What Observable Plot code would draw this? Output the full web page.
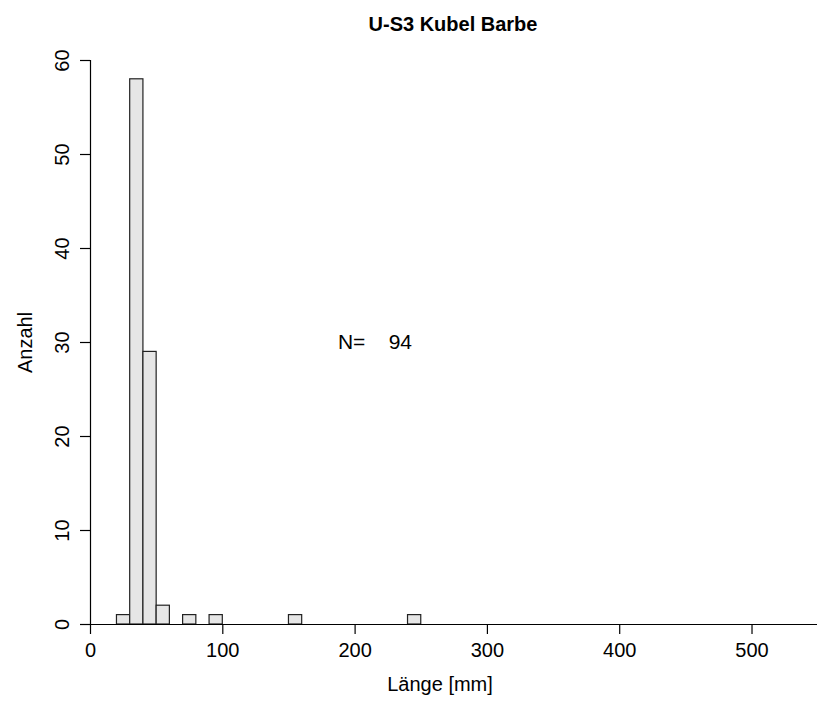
<!DOCTYPE html>
<html>
<head>
<meta charset="utf-8">
<script src="https://cdn.jsdelivr.net/npm/d3@7"></script>
<script src="https://cdn.jsdelivr.net/npm/@observablehq/plot@0.6"></script>
<style>
  html, body { margin: 0; padding: 0; background: #fff; }
  svg { display: block; font-family: "Liberation Sans", Arial, sans-serif; }
</style>
</head>
<body>
<div id="chart"></div>
<script>
const title = "U-S3 Kubel Barbe";
const xLabel = "Länge [mm]";
const yLabel = "Anzahl";
const binStart = [20, 30, 40, 50, 70, 90, 150, 240];
const binEnd   = [30, 40, 50, 60, 80, 100, 160, 250];
const counts   = [1, 58, 29, 2, 1, 1, 1, 1];
const xTicks = [0, 100, 200, 300, 400, 500];
const yTicks = [0, 10, 20, 30, 40, 50, 60];
const total = d3.sum(counts);
const noteX = 215, noteY = 30;

const bars = binStart.map((s, i) => ({x1: s, x2: binEnd[i], y: counts[i]}));

const W = 817, H = 706;
const font = "Liberation Sans, Arial, sans-serif";
const nb = "\u00a0";

const chart = Plot.plot({
  width: W,
  height: H,
  marginLeft: 90,
  marginRight: 0,
  marginTop: 60,
  marginBottom: 82,
  style: {fontFamily: font, background: "#fff"},
  x: {type: "linear", domain: [0, 549.5], axis: null},
  y: {type: "linear", domain: [0, 60], axis: null},
  marks: [
    Plot.rectY(bars, {x1: "x1", x2: "x2", y: "y", fill: "#e6e6e6", stroke: "#222", strokeWidth: 1.2, inset: 0}),
    Plot.ruleY([0], {x1: 0, x2: 549.5, stroke: "#000", strokeWidth: 1.2}),
    Plot.ruleX([0], {y1: 0, y2: 60, stroke: "#000", strokeWidth: 1.2}),
    Plot.axisX(xTicks, {tickSize: 10, tickPadding: 8, fontSize: 20, fill: "#000", stroke: "#000", strokeWidth: 1.2, label: null, tickFormat: d => String(d)}),
    Plot.axisY(yTicks, {tickSize: 10, text: null, stroke: "#000", strokeWidth: 1.2, label: null}),
    Plot.text(yTicks, {x: 0, y: d => d, text: d => String(d), rotate: -90, dx: -28, fontSize: 20, fill: "#000", textAnchor: "middle"}),
    Plot.text([title], {frameAnchor: "top", text: d => d, dy: -35.5, dx: -1, lineAnchor: "middle", textAnchor: "middle", fontSize: 20, fontWeight: "bold", fill: "#000"}),
    Plot.text([xLabel], {frameAnchor: "bottom", text: d => d, dy: 66, dx: -14, fontSize: 20, fill: "#000"}),
    Plot.text([yLabel], {frameAnchor: "left", text: d => d, rotate: -90, dx: -65, dy: 0, textAnchor: "middle", lineAnchor: "middle", fontSize: 20, fill: "#000"}),
    Plot.text([`N=${nb}${nb}${nb}${nb}${total}`], {x: noteX, y: noteY, text: d => d, fontSize: 21, fill: "#000", textAnchor: "middle"})
  ]
});
document.getElementById("chart").appendChild(chart);
</script>
</body>
</html>
